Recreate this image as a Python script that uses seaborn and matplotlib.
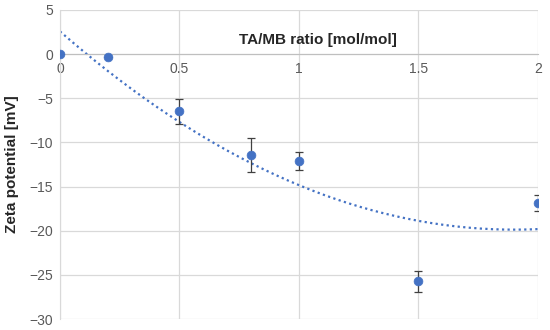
import numpy as np
import pandas as pd
import matplotlib
matplotlib.use('Agg')
import matplotlib.pyplot as plt
import seaborn as sns

# values
ratio = [0, 0.2, 0.5, 0.8, 1.0, 1.5, 2.0]
zeta = [0.0, -0.3, -6.5, -11.4, -12.1, -25.7, -16.9]
zeta_err = [0, 0, 1.4, 1.9, 1.0, 1.2, 0.9]
xticks = [0, 0.5, 1, 1.5, 2]
yticks = [5, 0, -5, -10, -15, -20, -25, -30]

df = pd.DataFrame({'ratio': ratio, 'zeta': zeta, 'err': zeta_err})

sns.set_style('white')
plt.rcParams['font.family'] = ['Liberation Sans', 'DejaVu Sans']

fig = plt.figure(figsize=(5.5, 3.3), dpi=100)
ax = fig.add_axes([0.109, 0.033, 0.869, 0.937])

# 2nd order polynomial trendline (as in Excel)
coef = np.polyfit(df['ratio'], df['zeta'], 2)
xs = np.linspace(0, 2, 200)
trend = pd.DataFrame({'x': xs, 'y': np.polyval(coef, xs)})
sns.lineplot(data=trend, x='x', y='y', ax=ax, color='#4472C4',
             linestyle=(0, (1, 1.5)), linewidth=1.6, zorder=2)

ax.errorbar(df['ratio'], df['zeta'], yerr=df['err'], fmt='none',
            ecolor='#404040', elinewidth=0.9, capsize=3, capthick=0.9, zorder=3)
sns.scatterplot(data=df, x='ratio', y='zeta', ax=ax, color='#4472C4',
                s=40, edgecolor='#4472C4', zorder=4)

ax.set_xlim(0, 2)
ax.set_ylim(-30, 5)
ax.set_xticks(xticks)
ax.set_xticklabels(['0', '0.5', '1', '1.5', '2'])
ax.set_yticks(yticks)
ax.set_yticklabels([str(v).replace('-', '\u2212') for v in yticks])

ax.grid(True, color='#d9d9d9', linewidth=0.9)
ax.set_axisbelow(True)
for s in ['top', 'right']:
    ax.spines[s].set_visible(False)
ax.spines['left'].set_color('#d9d9d9')
ax.spines['bottom'].set_position(('data', 0))
ax.spines['bottom'].set_color('#bfbfbf')
ax.tick_params(axis='both', length=0, labelsize=10, colors='#595959')
ax.tick_params(axis='x', pad=6)
ax.tick_params(axis='y', pad=5)

ax.set_xlabel('TA/MB ratio [mol/mol]', fontsize=11, fontweight='bold', color='#262626')
ax.xaxis.set_label_coords(0.54, 0.903)
ax.xaxis.label.set_va('center')
ax.set_ylabel('Zeta potential [mV]', fontsize=11, fontweight='bold', color='#262626')
ax.yaxis.set_label_coords(-0.085, 0.5)

fig.savefig('out.png', dpi=100)
